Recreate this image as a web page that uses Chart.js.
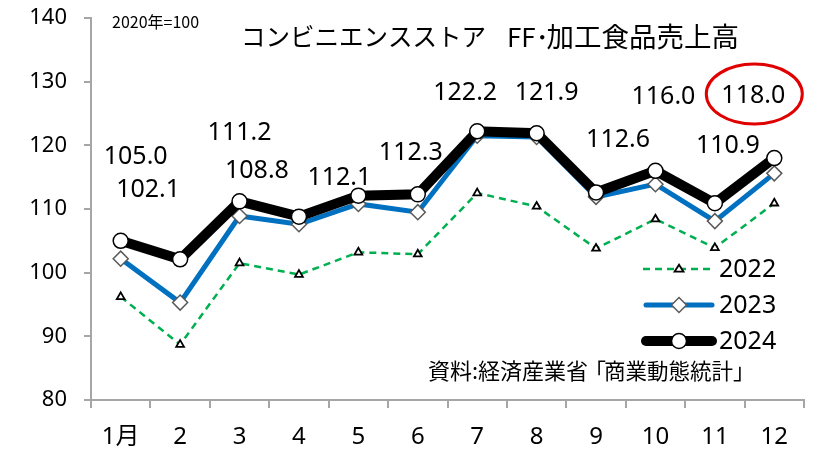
<!DOCTYPE html>
<html><head><meta charset="utf-8">
<script src="https://cdn.jsdelivr.net/npm/chart.js@4.4.1/dist/chart.umd.min.js"></script>
<style>html,body{margin:0;padding:0;background:#fff}canvas{display:block}</style>
</head><body>
<canvas id="c" width="813" height="454"></canvas>
<script>
const months = ['1月','2','3','4','5','6','7','8','9','10','11','12'];
const s2022 = [96.2, 88.7, 101.5, 99.7, 103.2, 102.9, 112.5, 110.4, 103.8, 108.4, 103.9, 110.9];
const s2023 = [102.2, 95.3, 108.9, 107.6, 110.8, 109.5, 121.5, 121.3, 111.9, 113.9, 108.1, 115.6];
const s2024 = [105.0, 102.1, 111.2, 108.8, 112.1, 112.3, 122.2, 121.9, 112.6, 116.0, 110.9, 118.0];
const seriesNames = ['2022', '2023', '2024'];
const yMin = 80, yMax = 140, yStep = 10;
const titleKana = 'コンビニエンスストア';
const titleFF = 'FF･';
const titleKanji = '加工食品売上高';
const baseText = '2020年=100';
const sourceA = '資料:経済産業省';
const sourceB = '商業動態統計';

const FONT = '"Noto Sans", "Noto Sans CJK JP", sans-serif';
const JFONT = '"Noto Sans CJK JP", "Noto Sans", sans-serif';
// label offsets (dx, dy) relative to each 2024 point
const labelOffsets = [[15,-84],[-32,-69],[0,-68],[-42,-46],[-19,-18],[-7,-41],[-12,-38],[10,-40],[22,-53],[8,-74],[13,-57],[-21,-62]];

const decor = {
  id: 'decor',
  afterDatasetsDraw(chart) {
    const ctx = chart.ctx;
    ctx.save();
    const meta = chart.getDatasetMeta(2);
    ctx.fillStyle = '#000';
    ctx.font = '25px ' + FONT;
    ctx.textAlign = 'center';
    ctx.textBaseline = 'middle';
    meta.data.forEach((pt, i) => {
      const [dx, dy] = labelOffsets[i];
      ctx.fillText(s2024[i].toFixed(1), pt.x + dx, pt.y + dy);
    });
    const last = meta.data[meta.data.length - 1];
    const [ldx, ldy] = labelOffsets[labelOffsets.length - 1];
    ctx.beginPath();
    ctx.ellipse(last.x + ldx + 1, last.y + ldy - 2, 48, 30, 0, 0, Math.PI * 2);
    ctx.strokeStyle = '#E00000';
    ctx.lineWidth = 3;
    ctx.stroke();

    // title & notes
    ctx.fillStyle = '#000';
    ctx.textBaseline = 'middle';
    ctx.textAlign = 'left';
    ctx.font = '24.5px ' + JFONT;
    ctx.fillText(titleKana, 241, 37);
    ctx.font = '26px ' + JFONT;
    ctx.fillText(titleFF, 507, 37);
    ctx.font = '27.5px ' + JFONT;
    ctx.textAlign = 'right';
    ctx.fillText(titleKanji, 739, 37);
    ctx.textAlign = 'left';
    ctx.font = '16px ' + JFONT;
    ctx.fillText(baseText, 112, 22);
    ctx.font = '22px ' + JFONT;
    ctx.fillText(sourceA, 428, 371);
    ctx.fillText('「', 584, 371);
    ctx.font = '21.5px ' + JFONT;
    ctx.fillText(sourceB, 604, 371);
    ctx.font = '22px ' + JFONT;
    ctx.fillText('」', 733, 371);

    // legend
    const ys = [269, 305, 341];
    chart.data.datasets.forEach((ds, i) => {
      const y = ys[i];
      ctx.save();
      ctx.beginPath();
      ctx.strokeStyle = ds.borderColor;
      ctx.lineWidth = ds.borderWidth;
      ctx.lineCap = i === 0 ? 'butt' : 'round';
      ctx.setLineDash(ds.borderDash || []);
      const x0 = i === 0 ? 643 : 646, x1 = i === 0 ? 714 : 712;
      ctx.moveTo(x0, y); ctx.lineTo(x1, y);
      ctx.stroke();
      ctx.setLineDash([]);
      const cx = 679, r = ds.pointRadius;
      ctx.fillStyle = ds.pointBackgroundColor;
      ctx.strokeStyle = ds.pointBorderColor;
      ctx.lineWidth = ds.pointBorderWidth;
      ctx.beginPath();
      if (ds.pointStyle === 'triangle') {
        ctx.moveTo(cx - r, y + r * 0.6); ctx.lineTo(cx, y - r * 0.95); ctx.lineTo(cx + r, y + r * 0.6); ctx.closePath();
      } else if (ds.pointStyle === 'rectRot') {
        ctx.moveTo(cx - r, y); ctx.lineTo(cx, y - r); ctx.lineTo(cx + r, y); ctx.lineTo(cx, y + r); ctx.closePath();
      } else {
        ctx.arc(cx, y, r, 0, Math.PI * 2);
      }
      ctx.fill(); ctx.stroke();
      ctx.restore();
      ctx.fillStyle = '#000';
      ctx.font = '25px ' + FONT;
      ctx.textAlign = 'left';
      ctx.textBaseline = 'middle';
      ctx.fillText(seriesNames[i], 719, y + 1);
    });
    ctx.restore();
  }
};

new Chart(document.getElementById('c'), {
  type: 'line',
  data: {
    labels: months,
    datasets: [
      { label: seriesNames[0], data: s2022, order: 3, borderColor: '#00B050', borderWidth: 2.5, borderDash: [7, 5],
        pointStyle: 'triangle', pointRadius: 4.5, pointBackgroundColor: '#fff', pointBorderColor: '#000', pointBorderWidth: 1.8, tension: 0 },
      { label: seriesNames[1], data: s2023, order: 2, borderColor: '#0070C0', borderWidth: 5,
        pointStyle: 'rectRot', pointRadius: 7.5, pointBackgroundColor: '#fff', pointBorderColor: '#595959', pointBorderWidth: 1.5, tension: 0 },
      { label: seriesNames[2], data: s2024, order: 1, borderColor: '#000', borderWidth: 10,
        pointStyle: 'circle', pointRadius: 7.5, pointBackgroundColor: '#fff', pointBorderColor: '#000', pointBorderWidth: 1.5, tension: 0 }
    ]
  },
  options: {
    responsive: false,
    animation: false,
    layout: { padding: { top: 18, right: 7, left: 0, bottom: 0 } },
    plugins: { legend: { display: false }, tooltip: { enabled: false } },
    scales: {
      x: {
        type: 'category', offset: true,
        grid: { offset: true, drawOnChartArea: false, drawTicks: true, tickLength: 8, color: '#A6A6A6', lineWidth: 2 },
        border: { color: '#A6A6A6', width: 2 },
        ticks: { color: '#000', font: { size: 24, family: FONT }, padding: 15, maxRotation: 0, autoSkip: false },
        afterFit: s => { s.height = 54; s.paddingLeft = 0; s.paddingRight = 0; }
      },
      y: {
        min: yMin, max: yMax,
        grid: { drawOnChartArea: false, drawTicks: true, tickLength: 7, color: '#A6A6A6', lineWidth: 2 },
        border: { color: '#A6A6A6', width: 2 },
        ticks: { stepSize: yStep, color: '#000', font: { size: 22, family: FONT }, padding: 17 },
        afterFit: s => { s.width = 91; s.paddingTop = 0; s.paddingBottom = 0; }
      }
    }
  },
  plugins: [decor]
});
</script>
</body></html>
